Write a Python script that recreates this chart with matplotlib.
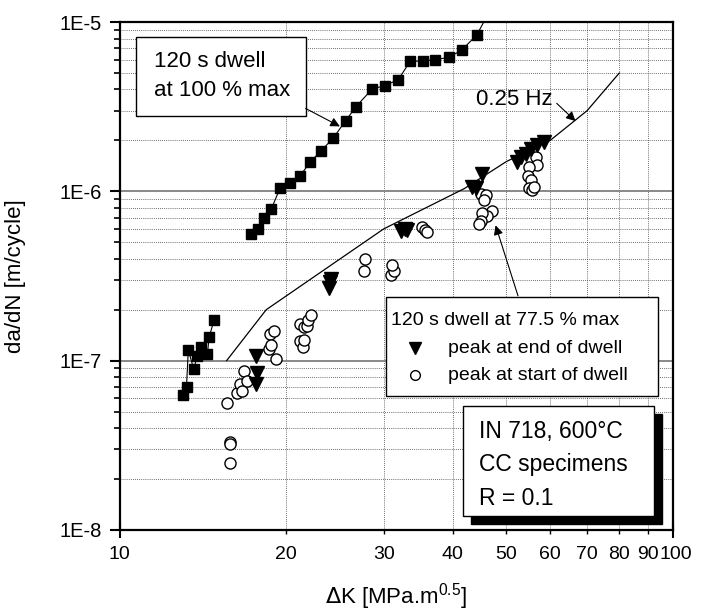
import matplotlib
matplotlib.use("Agg")
import matplotlib.pyplot as plt
import matplotlib.transforms as mtransforms
from matplotlib.patches import Rectangle
from matplotlib.ticker import FixedLocator, FixedFormatter, NullFormatter

plt.rcParams['font.family'] = ['Liberation Sans', 'DejaVu Sans']

# 120 s dwell at 100 % max (filled squares)
sq_x = [17.3, 17.8, 18.2, 18.8, 19.5, 20.3, 21.2, 22.1, 23.1, 24.3, 25.6,
        26.7, 28.6, 30.2, 31.9, 33.5, 35.3, 37.2, 39.3, 41.5, 44.2]
sq_y = [5.6e-7, 6.0e-7, 7.0e-7, 7.9e-7, 1.05e-6, 1.12e-6, 1.24e-6, 1.49e-6,
        1.73e-6, 2.06e-6, 2.61e-6, 3.15e-6, 4.03e-6, 4.22e-6, 4.58e-6,
        5.88e-6, 5.88e-6, 6.01e-6, 6.18e-6, 6.83e-6, 8.38e-6]
sq_tail_x = [44.2, 45.5]
sq_tail_y = [8.38e-6, 1.0e-5]

# low dK squares
lo_x = [13.0, 13.2, 13.3, 13.6, 13.8, 14.0, 14.4, 14.5, 14.8]
lo_y = [6.3e-8, 7.0e-8, 1.16e-7, 8.9e-8, 1.06e-7, 1.20e-7, 1.09e-7, 1.37e-7, 1.73e-7]

# 120 s dwell at 77.5 % max, peak at end of dwell
tri_x = [17.6, 17.7, 17.6, 23.9, 24.0, 24.1, 32.3, 32.8, 33.0, 43.4, 44.0,
         45.2, 52.2, 53.1, 54.2, 55.3, 56.9, 58.4]
tri_y = [1.06e-7, 8.5e-8, 7.3e-8, 2.7e-7, 2.9e-7, 3.05e-7, 5.8e-7, 6.0e-7,
         5.9e-7, 1.06e-6, 1.04e-6, 1.27e-6, 1.49e-6, 1.60e-6, 1.67e-6,
         1.79e-6, 1.87e-6, 1.96e-6]

# 120 s dwell at 77.5 % max, peak at start of dwell
circ_x = [15.6, 15.8, 15.8, 15.8, 16.3, 16.5, 16.6, 16.8, 17.0, 18.6, 18.7,
          19.0, 18.8, 19.2, 21.2, 21.4, 21.5, 21.2, 21.5, 21.8, 21.9, 22.2,
          27.8, 27.6, 30.9, 31.3, 31.1, 35.2, 35.7, 36.0, 44.9, 46.0, 45.5,
          47.1, 46.2, 45.2, 44.9, 44.6, 56.5, 56.9, 54.9, 54.6, 55.3, 54.9,
          55.7, 56.1]
circ_y = [5.6e-8, 3.3e-8, 3.2e-8, 2.5e-8, 6.4e-8, 7.3e-8, 6.6e-8, 8.7e-8,
          7.6e-8, 1.17e-7, 1.44e-7, 1.49e-7, 1.23e-7, 1.02e-7, 1.31e-7,
          1.21e-7, 1.33e-7, 1.65e-7, 1.57e-7, 1.61e-7, 1.73e-7, 1.85e-7,
          4.0e-7, 3.4e-7, 3.2e-7, 3.4e-7, 3.65e-7, 6.15e-7, 5.9e-7, 5.75e-7,
          9.7e-7, 9.5e-7, 8.85e-7, 7.7e-7, 7.2e-7, 7.4e-7, 6.7e-7, 6.4e-7,
          1.60e-6, 1.43e-6, 1.39e-6, 1.24e-6, 1.16e-6, 1.04e-6, 1.02e-6,
          1.06e-6]

# 0.25 Hz reference curve
hz_x = [15.6, 18.4, 30.0, 42.0, 50.0, 60.0, 70.0, 80.0]
hz_y = [1.0e-7, 2.0e-7, 6.0e-7, 1.04e-6, 1.5e-6, 2.0e-6, 3.0e-6, 5.0e-6]

x_ticks = [20, 30, 40, 50, 60, 70, 80, 90]
y_major = [1e-8, 1e-7, 1e-6, 1e-5]
y_labels = ['1E-8', '1E-7', '1E-6', '1E-5']

fig = plt.figure(figsize=(7.09, 6.14), dpi=100)
ax = fig.add_axes([0.169, 0.137, 0.780, 0.827])
ax.set_xscale('log')
ax.set_yscale('log')
ax.set_xlim(10, 100)
ax.set_ylim(1e-8, 1e-5)

# ticks and grid
ax.yaxis.set_minor_locator(FixedLocator([m * d for d in [1e-8, 1e-7, 1e-6] for m in range(2, 10)]))
ax.yaxis.set_major_locator(FixedLocator(y_major))
ax.yaxis.set_major_formatter(FixedFormatter(y_labels))
ax.yaxis.set_minor_formatter(NullFormatter())
ax.xaxis.set_major_locator(FixedLocator([10, 100]))
ax.xaxis.set_major_formatter(FixedFormatter(['10', '100']))
ax.xaxis.set_minor_locator(FixedLocator(x_ticks))
ax.xaxis.set_minor_formatter(FixedFormatter([str(t) for t in x_ticks]))

ax.grid(True, which='major', axis='y', color='#808080', lw=1.3, ls='-')
ax.grid(True, which='minor', axis='both', color='0.25', lw=0.6, ls=(0, (1, 1.5)))
ax.set_axisbelow(True)

for s in ax.spines.values():
    s.set_linewidth(1.6)

ax.tick_params(axis='x', which='major', direction='inout', length=12, width=1.5,
               pad=5.5, labelsize=14)
ax.tick_params(axis='x', which='minor', direction='out', length=3, width=1,
               pad=8.5, labelsize=14)
ax.tick_params(axis='y', which='major', direction='out', length=7.5, width=1.5,
               pad=5.5, labelsize=14.5)
ax.tick_params(axis='y', which='minor', direction='out', length=4.5, width=1.2)

# "100" sits a little to the right of its tick, as in the original
shift = mtransforms.ScaledTranslation(3 / 100, 0, fig.dpi_scale_trans)
lab100 = ax.xaxis.get_majorticklabels()[1]
lab100.set_transform(lab100.get_transform() + shift)

# data
ax.plot(sq_x, sq_y, color='black', lw=0.8, marker='s', ms=7.5, mfc='black',
        mec='black', zorder=4)
ax.plot(sq_tail_x, sq_tail_y, color='black', lw=0.8, zorder=3)
ax.plot(lo_x, lo_y, color='black', lw=0.8, marker='s', ms=7.5, mfc='black',
        mec='black', zorder=4)
ax.plot(hz_x, hz_y, color='black', lw=0.9, zorder=3)
ax.plot(circ_x, circ_y, ls='none', marker='o', ms=8, mfc='white', mec='black',
        mew=1.0, zorder=4)
ax.plot(tri_x, tri_y, ls='none', marker='v', ms=9.5, mfc='black', mec='black',
        zorder=5)

arrow = dict(arrowstyle='-|>', color='black', lw=0.8, mutation_scale=14,
             shrinkA=0, shrinkB=0)

# box: 120 s dwell at 100 % max
ax.add_patch(Rectangle((0.029, 0.815), 0.307, 0.156, transform=ax.transAxes,
                       facecolor='white', edgecolor='black', lw=1.0, zorder=6))
ax.text(0.062, 0.922, '120 s dwell', transform=ax.transAxes, fontsize=16,
        va='center', ha='left', zorder=7)
ax.text(0.062, 0.866, 'at 100 % max', transform=ax.transAxes, fontsize=16,
        va='center', ha='left', zorder=7)
ax.annotate('', xy=(25.0, 2.42e-6), xytext=(0.336, 0.830),
            textcoords='axes fraction', arrowprops=arrow, zorder=7)

# 0.25 Hz label
ax.text(0.7125, 0.848, '0.25 Hz', transform=ax.transAxes, fontsize=16,
        va='center', ha='center', zorder=7)
ax.annotate('', xy=(66.7, 2.6e-6), xytext=(0.790, 0.840),
            textcoords='axes fraction', arrowprops=arrow, zorder=7)

# legend box
ax.add_patch(Rectangle((0.481, 0.264), 0.492, 0.195, transform=ax.transAxes,
                       facecolor='white', edgecolor='black', lw=1.0, zorder=6))
ax.text(0.491, 0.413, '120 s dwell at 77.5 % max', transform=ax.transAxes,
        fontsize=14, va='center', ha='left', zorder=7)
ax.plot([0.533], [0.358], transform=ax.transAxes, marker='v', ms=9,
        color='black', zorder=7, clip_on=False)
ax.plot([0.533], [0.305], transform=ax.transAxes, marker='o', ms=7,
        mfc='white', mec='black', mew=1.0, zorder=7, clip_on=False)
ax.text(0.593, 0.358, 'peak at end of dwell', transform=ax.transAxes,
        fontsize=14, va='center', ha='left', zorder=7)
ax.text(0.593, 0.305, 'peak at start of dwell', transform=ax.transAxes,
        fontsize=14, va='center', ha='left', zorder=7)
ax.annotate('', xy=(47.8, 6.3e-7), xytext=(0.720, 0.461),
            textcoords='axes fraction', arrowprops=arrow, zorder=7)

# material box with shadow
ax.add_patch(Rectangle((0.621 + 0.0135, 0.028 - 0.0155), 0.345, 0.216,
                       transform=ax.transAxes, facecolor='black',
                       edgecolor='black', lw=1.0, zorder=6))
ax.add_patch(Rectangle((0.621, 0.028), 0.345, 0.216, transform=ax.transAxes,
                       facecolor='white', edgecolor='black', lw=1.0, zorder=6))
for yy, txt in zip([0.1935, 0.129, 0.0624],
                   ['IN 718, 600°C', 'CC specimens', 'R = 0.1']):
    ax.text(0.649, yy, txt, transform=ax.transAxes, fontsize=16.5,
            va='center', ha='left', zorder=7)

ax.set_ylabel('da/dN [m/cycle]', fontsize=16)
ax.yaxis.set_label_coords(-0.17, 0.5)
ax.set_xlabel(r'$\Delta$K [MPa.m$^{\mathregular{0.5}}$]', fontsize=16)
ax.xaxis.set_label_coords(0.5, -0.10)

fig.savefig('out.png', dpi=100)
